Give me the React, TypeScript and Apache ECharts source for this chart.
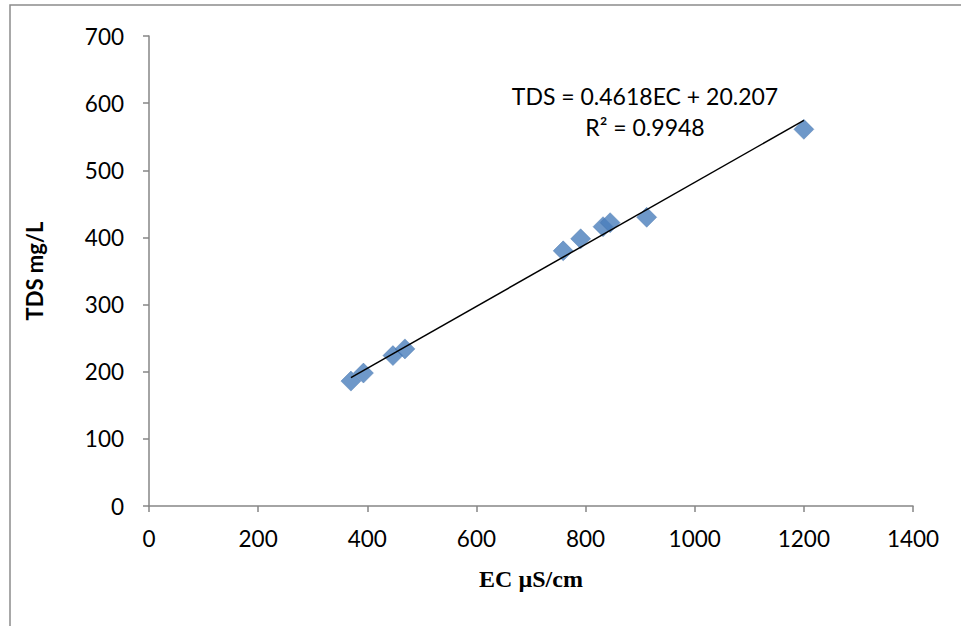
import React, { useEffect, useRef } from "react";
import * as echarts from "echarts";

const ecValues = [370, 393, 447, 469, 759, 791, 832, 845, 912, 1200];
const tdsValues = [186, 198, 224, 234, 380, 398, 416, 422, 430, 561];
const slope = 0.4618;
const intercept = 20.207;
const equationText = "TDS = 0.4618EC + 20.207";
const r2Text = "R² = 0.9948";
const xAxisName = "EC µS/cm";
const yAxisName = "TDS mg/L";

export default function App() {
  const ref = useRef<HTMLDivElement>(null);
  useEffect(() => {
    document.body.style.margin = "0";
    const chart = echarts.init(ref.current!, null, { renderer: "svg" });
    const xMin = Math.min(...ecValues);
    const xMax = Math.max(...ecValues);
    const trend = [
      [xMin, slope * xMin + intercept],
      [xMax, slope * xMax + intercept],
    ];
    chart.setOption({
      animation: false,
      backgroundColor: "#ffffff",
      grid: { left: 149, top: 36, width: 764, height: 470 },
      xAxis: {
        type: "value",
        min: 0,
        max: 1400,
        interval: 200,
        splitLine: { show: false },
        axisLine: { onZero: false, lineStyle: { color: "#868686", width: 1.5 } },
        axisTick: { show: true, length: 6, lineStyle: { color: "#868686", width: 1.5 } },
        axisLabel: {
          color: "#000",
          fontSize: 22.5,
          fontFamily: "Lato",
          margin: 21,
          formatter: (v: number) => String(v),
        },
        name: xAxisName,
        nameLocation: "middle",
        nameGap: 61,
        nameTextStyle: { color: "#000", fontSize: 24, fontWeight: "bold", fontFamily: "Liberation Serif" },
      },
      yAxis: {
        type: "value",
        min: 0,
        max: 700,
        interval: 100,
        splitLine: { show: false },
        axisLine: { show: true, lineStyle: { color: "#868686", width: 1.5 } },
        axisTick: { show: true, length: 6, lineStyle: { color: "#868686", width: 1.5 } },
        axisLabel: {
          color: "#000",
          fontSize: 22.5,
          fontFamily: "Lato",
          margin: 25,
          formatter: (v: number) => String(v),
        },
        name: yAxisName,
        nameLocation: "middle",
        nameGap: 104,
        nameTextStyle: { color: "#000", fontSize: 22, fontWeight: "bold", fontFamily: "Lato" },
      },
      series: [
        {
          type: "line",
          data: trend,
          symbol: "none",
          lineStyle: { color: "#000", width: 1.5 },
          z: 3,
          silent: true,
        },
        {
          type: "scatter",
          data: ecValues.map((v, i) => [v, tdsValues[i]]),
          symbol: "diamond",
          symbolSize: [20, 20],
          itemStyle: { color: "#4A7EBB", borderColor: "#3e6ea8", borderWidth: 0.5 },
          z: 2,
        },
      ],
      graphic: [
        {
          type: "rect",
          shape: { x: 10, y: 5, width: 1000, height: 700 },
          style: { fill: "none", stroke: "#8c8c8c", lineWidth: 1.5 },
          silent: true,
        },
        {
          type: "text",
          x: 645,
          y: 96,
          style: {
            text: equationText,
            fill: "#000",
            fontSize: 23,
            fontFamily: "Lato",
            textAlign: "center",
            textVerticalAlign: "middle",
          },
        },
        {
          type: "text",
          x: 645,
          y: 127,
          style: {
            text: r2Text,
            fill: "#000",
            fontSize: 23,
            fontFamily: "Lato",
            textAlign: "center",
            textVerticalAlign: "middle",
          },
        },
      ],
    });
    return () => chart.dispose();
  }, []);
  return (
    <div
      ref={ref}
      style={{ position: "fixed", left: 0, top: 0, width: 961, height: 626 }}
    />
  );
}
